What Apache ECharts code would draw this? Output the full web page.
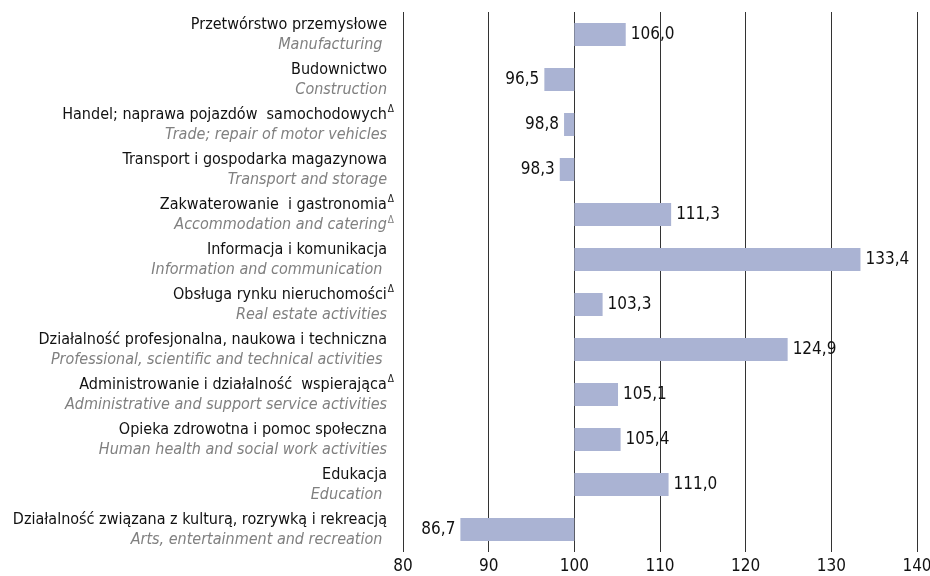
<!DOCTYPE html>
<html>
<head>
<meta charset="utf-8">
<script src="https://cdn.jsdelivr.net/npm/echarts@6/dist/echarts.min.js"></script>
<style>html,body{margin:0;padding:0;background:#fff;}#c{width:930px;height:576px;}</style>
</head>
<body>
<div id="c"></div>
<script>
const categoriesPL = [
  'Przetwórstwo przemysłowe',
  'Budownictwo',
  'Handel; naprawa pojazdów  samochodowych',
  'Transport i gospodarka magazynowa',
  'Zakwaterowanie  i gastronomia',
  'Informacja i komunikacja',
  'Obsługa rynku nieruchomości',
  'Działalność profesjonalna, naukowa i techniczna',
  'Administrowanie i działalność  wspierająca',
  'Opieka zdrowotna i pomoc społeczna',
  'Edukacja',
  'Działalność związana z kulturą, rozrywką i rekreacją'
];
const categoriesEN = [
  'Manufacturing ',
  'Construction',
  'Trade; repair of motor vehicles',
  'Transport and storage',
  'Accommodation and catering',
  'Information and communication ',
  'Real estate activities',
  'Professional, scientific and technical activities ',
  'Administrative and support service activities',
  'Human health and social work activities',
  'Education ',
  'Arts, entertainment and recreation '
];
const supPL = [false, false, true, false, true, false, true, false, true, false, false, false];
const supEN = [false, false, false, false, true, false, false, false, false, false, false, false];
const values = [106.0, 96.5, 98.8, 98.3, 111.3, 133.4, 103.3, 124.9, 105.1, 105.4, 111.0, 86.7];
const xTicks = [80, 90, 100, 110, 120, 130, 140];
const baseline = 100;

const FONT = '"Liberation Sans Narrow", "DejaVu Sans Condensed", sans-serif';
const idx = categoriesPL.map((_, i) => String(i));
const baseData = values.map(v => Math.min(v, baseline));
const diffData = values.map(v => Math.abs(v - baseline));

const chart = echarts.init(document.getElementById('c'));
chart.setOption({
  animation: false,
  backgroundColor: '#fff',
  grid: { left: 403, right: 13, top: 12, bottom: 24, containLabel: false, outerBoundsMode: 'none' },
  xAxis: {
    type: 'value', min: xTicks[0], max: xTicks[xTicks.length - 1], interval: 10,
    axisLine: { show: false }, axisTick: { show: false },
    splitLine: { show: true, lineStyle: { color: '#333', width: 1 } },
    axisLabel: { fontFamily: FONT, fontSize: 17, color: '#111', margin: 6 }
  },
  yAxis: {
    type: 'category', data: idx, inverse: true,
    axisLine: { show: false }, axisTick: { show: false },
    axisLabel: {
      margin: 9, align: 'right',
      formatter: function (val) {
        const i = +val;
        let s = '{pl|' + categoriesPL[i] + '}' + (supPL[i] ? '{sup|Δ}' : '{sp| }');
        s += '\n{en|' + categoriesEN[i] + '}' + (supEN[i] ? '{supen|Δ}' : '{sp| }');
        return s;
      },
      rich: {
        pl: { fontFamily: FONT, fontSize: 16, color: '#111', lineHeight: 21 },
        en: { fontFamily: FONT, fontSize: 16, fontStyle: 'italic', color: '#808080', lineHeight: 19 },
        sup: { fontFamily: FONT, fontSize: 10, color: '#111', verticalAlign: 'top', lineHeight: 21, padding: [0, 0, 8, 1] },
        supen: { fontFamily: FONT, fontSize: 10, color: '#808080', verticalAlign: 'top', lineHeight: 19, padding: [0, 0, 6, 1] },
        sp: { fontFamily: FONT, fontSize: 10, width: 7 }
      }
    }
  },
  series: [
    {
      type: 'bar', stack: 'a', data: baseData, barWidth: 23, silent: true,
      itemStyle: { color: 'rgba(0,0,0,0)' }
    },
    {
      type: 'bar', stack: 'a', barWidth: 23,
      data: diffData.map((d, i) => ({
        value: d,
        label: {
          show: true,
          position: values[i] >= baseline ? 'right' : 'left',
          distance: 5,
          formatter: () => values[i].toFixed(1).replace('.', ','),
          fontFamily: FONT, fontSize: 17, color: '#111'
        }
      })),
      itemStyle: { color: '#aab3d3' }
    }
  ]
});
</script>
</body>
</html>
